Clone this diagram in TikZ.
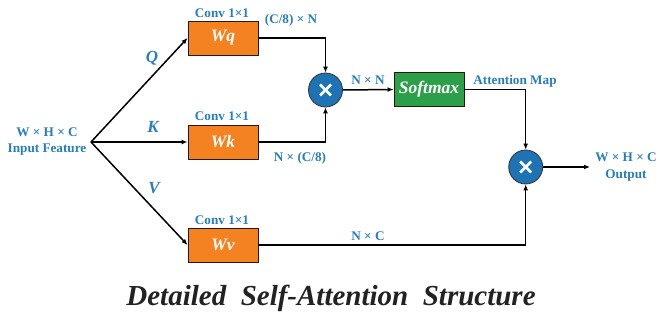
\documentclass[tikz,border=0pt]{standalone}
\usepackage{fontspec}
\setmainfont{Liberation Serif}
\usetikzlibrary{arrows.meta,calc}
\definecolor{boxorange}{RGB}{245,130,32}
\definecolor{boxgreen}{RGB}{44,160,72}
\definecolor{circblue}{RGB}{30,115,180}
\definecolor{lblblue}{RGB}{40,125,190}
\definecolor{titlegray}{RGB}{34,34,34}
\begin{document}
\begin{tikzpicture}[x=1pt,y=-1pt,
  conn/.style={line width=1.5pt,black},
  arr/.style={conn,-{Latex[length=6pt,width=5pt]}},
  wbox/.style={draw=black!80!brown,line width=0.9pt,minimum width=70pt,minimum height=34pt,inner sep=0pt,
    text=white,font=\fontsize{17.5}{20}\selectfont\bfseries\itshape},
  mulc/.style={circle,draw=black!80,line width=0.8pt,fill=circblue,minimum size=34pt,inner sep=0pt},
  lbl/.style={text=lblblue,font=\fontsize{13.2}{14.5}\selectfont\bfseries,inner sep=0pt},
  qkv/.style={text=lblblue,font=\fontsize{17}{19}\selectfont\bfseries\itshape,inner sep=0pt}]
\useasboundingbox (0,0) rectangle (657,320);

% input
\coordinate (in) at (91,142);
\node[lbl,align=center] (inlbl) at (47,141.5) {W × H × C\\[2pt]Input Feature};

% boxes
\node[wbox,fill=boxorange] (wq) at (223,38) {Wq};
\node[wbox,fill=boxorange] (wk) at (223,142) {Wk};
\node[wbox,fill=boxorange] (wv) at (223,245) {Wv};
\node[lbl] (cq) at (222,13) {Conv 1×1};
\node[lbl] (ck) at (222,116) {Conv 1×1};
\node[lbl] (cv) at (222,220) {Conv 1×1};

% branch labels
\node[qkv] (lq) at (152,58) {Q};
\node[qkv] (lk) at (153,127) {K};
\node[qkv] (lv) at (154,188) {V};

\draw[arr] (in) -- (wq.west);
\draw[arr] (in) -- (wk.west);
\draw[arr] (in) -- (wv.west);

% multiply 1
\node[mulc] (m1) at (325.5,90) {};
\draw[white,line width=2.6pt] ($(m1)+(-5.5,-5.5)$) -- ($(m1)+(5.5,5.5)$);
\draw[white,line width=2.6pt] ($(m1)+(-5.5,5.5)$) -- ($(m1)+(5.5,-5.5)$);
\draw[arr] (wq.east) -| (m1.north);
\draw[arr] (wk.east) -| (m1.south);
\node[lbl] (lqn) at (291,20) {(C/8) × N};
\node[lbl] (lkn) at (300,158) {N × (C/8)};

% softmax
\node[wbox,fill=boxgreen] (sm) at (429,89.5) {Softmax};
\draw[arr] (m1.east) -- (sm.west);
\node[lbl] (lnn) at (368,80) {N × N};
\node[lbl] (lam) at (515,81) {Attention Map};

% multiply 2
\node[mulc] (m2) at (525.7,167) {};
\draw[white,line width=2.6pt] ($(m2)+(-5.5,-5.5)$) -- ($(m2)+(5.5,5.5)$);
\draw[white,line width=2.6pt] ($(m2)+(-5.5,5.5)$) -- ($(m2)+(5.5,-5.5)$);
\draw[arr] (sm.east) -| (m2.north);
\draw[arr] (wv.east) -| (m2.south);
\node[lbl] (lnc) at (368,236) {N × C};

% output
\coordinate (out) at (590,167);
\draw[arr] (m2.east) -- (out);
\node[lbl,align=center] (outlbl) at (626,167) {W × H × C\\[2pt]Output};

% title
\node[text=titlegray,font=\fontsize{29}{32}\selectfont\bfseries\itshape,inner sep=0pt] (title) at (331,298)
  {Detailed\hspace{0.5em}Self-Attention\hspace{0.5em}Structure};
\end{tikzpicture}
\end{document}
